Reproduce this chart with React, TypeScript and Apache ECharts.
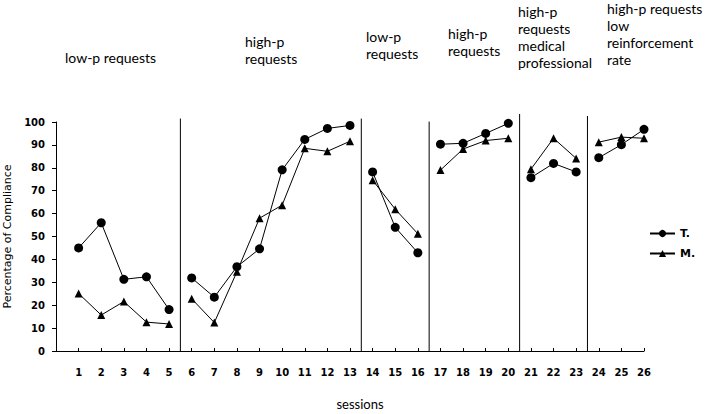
import React, { useEffect, useRef } from "react";
import * as echarts from "echarts";

// ---- data ----
const sessions = [1, 2, 3, 4, 5, 6, 7, 8, 9, 10, 11, 12, 13, 14, 15, 16, 17, 18, 19, 20, 21, 22, 23, 24, 25, 26];
const tValues = [45, 56, 31.3, 32.4, 18.1, 31.9, 23.5, 36.8, 44.6, 79.1, 92.4, 97.2, 98.5, 78.2, 54, 42.9, 90.3, 90.7, 95, 99.4, 75.7, 81.9, 78.2, 84.4, 90.1, 96.8];
const mValues = [25.1, 15.7, 21.6, 12.6, 11.8, 22.8, 12.4, 34.6, 58, 63.7, 88.5, 87.2, 91.6, 74.6, 61.9, 51.2, 79, 88.2, 91.9, 92.9, 79.4, 92.9, 84.1, 91.2, 93.4, 92.9];
const phaseFirstSession = [1, 6, 14, 17, 21, 24];
const phaseBreaks = [5.5, 13.5, 16.5, 20.5, 23.5];
const phaseLineTops = [101.5, 101.5, 100.2, 103.5, 102.6];
const phaseTitles = [
  "low-p requests",
  "high-p\nrequests",
  "low-p\nrequests",
  "high-p\nrequests",
  "high-p\nrequests\nmedical\nprofessional",
  "high-p requests\nlow\nreinforcement\nrate",
];
const subjects = ["T.", "M."];

// ---- layout ----
const titlePos = [
  [65, 57],
  [245, 41],
  [366, 36],
  [448, 33],
  [518, 11],
  [607, 8],
];
const LINE_H = 17;

function buildSeries() {
  const all: any[] = [];
  const valuesBySubject = [tValues, mValues];
  subjects.forEach((name, si) => {
    const vals = valuesBySubject[si];
    phaseFirstSession.forEach((start, pi) => {
      const end = pi + 1 < phaseFirstSession.length ? phaseFirstSession[pi + 1] : sessions.length + 1;
      const data: number[][] = [];
      sessions.forEach((s, i) => {
        if (s >= start && s < end) data.push([s, vals[i]]);
      });
      all.push({
        name,
        type: "line",
        data,
        symbol: si === 0 ? "circle" : "triangle",
        symbolSize: si === 0 ? 9 : 8,
        itemStyle: { color: "#000" },
        lineStyle: { color: "#000", width: 1 },
        z: si === 0 ? 3 : 4,
      });
    });
  });
  // phase-change lines
  all.push({
    type: "custom",
    silent: true,
    clip: false,
    z: 1,
    data: phaseBreaks.map((b, k) => [b, phaseLineTops[k]]),
    renderItem: (_params: any, api: any) => {
      const x = api.value(0);
      const top = api.value(1);
      const p0 = api.coord([x, 0]);
      const p1 = api.coord([x, top]);
      return {
        type: "line",
        shape: { x1: p0[0], y1: p0[1], x2: p1[0], y2: p1[1] },
        style: { stroke: "#000", lineWidth: 1 },
      };
    },
  });
  return all;
}

export default function App() {
  const ref = useRef<HTMLDivElement>(null);
  useEffect(() => {
    document.body.style.margin = "0";
    if (!ref.current) return;
    const chart = echarts.init(ref.current, null, { renderer: "svg" });
    chart.setOption({
      animation: false,
      backgroundColor: "#fff",
      grid: { left: 56, right: 62, top: 122, bottom: 63, containLabel: false, outerBoundsMode: "none" },
      legend: {
        data: subjects,
        orient: "vertical",
        left: 644,
        top: 223,
        itemWidth: 25,
        itemHeight: 9,
        itemGap: 9,
        textStyle: { fontFamily: "DejaVu Sans", fontSize: 11, color: "#000", fontWeight: "bold" },
      },
      xAxis: {
        type: "value",
        min: 0,
        max: 26,
        interval: 1,
        splitLine: { show: false },
        axisLine: { show: true, onZero: false, lineStyle: { color: "#000", width: 1 } },
        axisTick: { show: true, inside: true, length: 3, lineStyle: { color: "#000" } },
        axisLabel: {
          margin: 16,
          fontFamily: "DejaVu Sans",
          fontSize: 10,
          fontWeight: "bold",
          color: "#000",
          formatter: (v: number) => (v === 0 ? "" : String(v)),
        },
        name: "sessions",
        nameLocation: "middle",
        nameGap: 46,
        nameTextStyle: { fontFamily: "Lato", fontSize: 13, color: "#000", padding: [0, 0, 0, 20] },
      },
      yAxis: {
        type: "value",
        min: 0,
        max: 100,
        interval: 10,
        splitLine: { show: false },
        axisLine: { show: true, lineStyle: { color: "#000", width: 1 } },
        axisTick: { show: true, length: 4, lineStyle: { color: "#000" } },
        axisLabel: { margin: 11, fontFamily: "DejaVu Sans", fontSize: 10, fontWeight: "bold", color: "#000" },
        name: "Percentage of Compliance",
        nameLocation: "middle",
        nameRotate: 90,
        nameGap: 41,
        nameTextStyle: { fontFamily: "DejaVu Sans", fontSize: 11, color: "#000" },
      },
      graphic: phaseTitles.map((t, i) => ({
        type: "text",
        x: titlePos[i][0],
        y: titlePos[i][1] - LINE_H / 2,
        style: { text: t, font: "14px Lato", fill: "#000", lineHeight: LINE_H, verticalAlign: "top" },
      })),
      series: buildSeries(),
    });
    return () => chart.dispose();
  }, []);
  return <div ref={ref} style={{ width: 706, height: 414 }} />;
}
